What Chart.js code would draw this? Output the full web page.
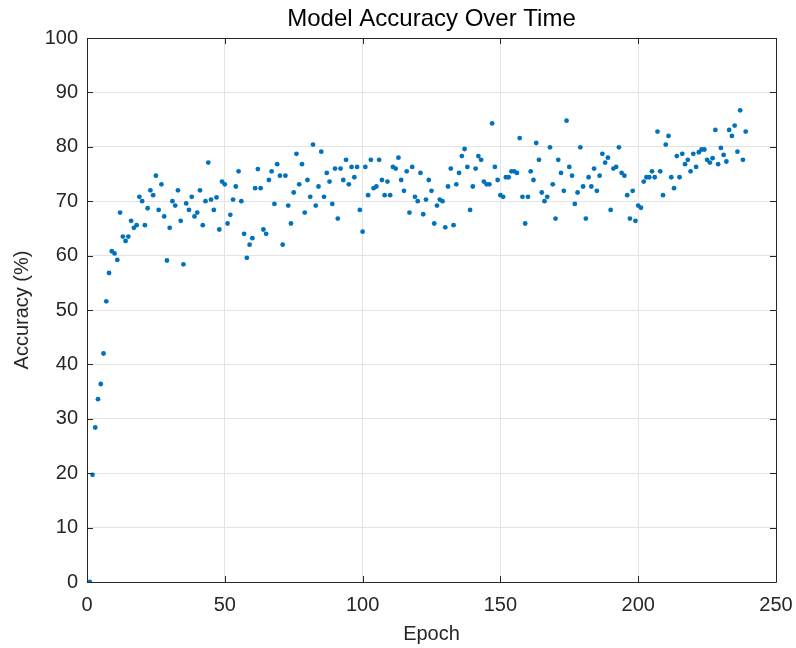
<!DOCTYPE html>
<html>
<head>
<meta charset="utf-8">
<script src="https://cdn.jsdelivr.net/npm/chart.js@4/dist/chart.umd.min.js"></script>
<style>
html,body{margin:0;padding:0;background:#fff;}
#wrap{width:796px;height:648px;position:relative;}
</style>
</head>
<body>
<div id="wrap"><canvas id="c" width="796" height="648"></canvas></div>
<script>
const chartTitle = "Model Accuracy Over Time";
const xTitle = "Epoch";
const yTitle = "Accuracy (%)";
const xTicks = [0, 50, 100, 150, 200, 250];
const yTicks = [0, 10, 20, 30, 40, 50, 60, 70, 80, 90, 100];

const epochs = [
1,2,3,4,5,6,7,8,9,10,11,12,13,14,15,16,17,18,19,20,
21,22,23,24,25,26,27,28,29,30,31,32,33,34,35,36,37,38,39,40,
41,42,43,44,45,46,47,48,49,50,51,52,53,54,55,56,57,58,59,60,
61,62,63,64,65,66,67,68,69,70,71,72,73,74,75,76,77,78,79,80,
81,82,83,84,85,86,87,88,89,90,91,92,93,94,95,96,97,98,99,100,
101,102,103,104,105,106,107,108,109,110,111,112,113,114,115,116,117,118,119,120,
121,122,123,124,125,126,127,128,129,130,131,132,133,134,135,136,137,138,139,140,
141,142,143,144,145,146,147,148,149,150,151,152,153,154,155,156,157,158,159,160,
161,162,163,164,165,166,167,168,169,170,171,172,173,174,175,176,177,178,179,180,
181,182,183,184,185,186,187,188,189,190,191,192,193,194,195,196,197,198,199,200,
201,202,203,204,205,206,207,208,209,210,211,212,213,214,215,216,217,218,219,220,
221,222,223,224,225,226,227,228,229,230,231,232,233,234,235,236,237,238,239
];

const accuracy = [
0,19.7,28.4,33.6,36.4,42.0,51.6,56.8,60.8,60.4,59.2,67.9,63.5,62.7,63.5,66.4,65.1,65.6,70.8,70.0,
65.6,68.7,72.0,71.1,74.7,68.4,73.1,67.2,59.1,65.1,70.0,69.2,72.0,66.4,58.4,69.6,68.4,70.8,67.2,67.9,
72.0,65.6,70.0,77.1,70.3,68.4,70.7,64.8,73.6,73.1,65.9,67.5,70.3,72.7,75.5,70.0,64.0,59.6,62.0,63.2,
72.4,75.9,72.4,64.8,64.0,73.9,75.5,69.5,76.8,74.7,62.0,74.7,69.2,65.9,71.6,78.7,73.1,76.8,67.9,73.9,
70.8,80.4,69.2,72.7,79.1,70.8,75.2,73.6,69.5,76.0,66.8,76.0,73.9,77.6,73.1,76.3,74.4,76.3,68.4,64.4,
76.3,71.1,77.6,72.4,72.7,77.6,73.9,71.1,73.6,71.1,76.3,76.0,78.0,73.9,71.9,75.5,67.9,76.3,70.8,70.0,
75.2,67.6,70.3,73.9,71.9,65.9,69.2,70.3,70.0,65.2,72.7,76.0,65.6,73.1,75.2,78.3,79.6,76.3,68.4,72.7,
76.0,78.3,77.6,73.6,73.1,73.1,84.3,76.3,73.9,71.1,70.8,74.4,74.4,75.5,75.5,75.2,81.6,70.8,65.9,70.8,
75.5,73.9,80.7,77.6,71.6,70.0,70.8,79.9,73.1,66.8,77.6,75.2,71.9,84.8,76.3,74.7,69.5,71.6,79.9,72.7,
66.8,74.4,72.7,76.0,71.9,74.7,78.7,77.1,78.0,68.4,76.0,76.3,79.9,75.2,74.7,71.1,66.8,71.9,66.4,69.2,
68.8,73.6,74.4,74.4,75.5,74.4,82.8,75.5,71.1,80.4,82.0,74.4,72.4,78.3,74.4,78.7,76.8,77.6,75.5,78.7,
76.3,79.0,79.5,79.5,77.6,77.1,77.9,83.1,76.8,79.8,78.5,77.3,83.1,82.0,83.9,79.1,86.7,77.6,82.8
];

const points = epochs.map((e, i) => ({x: e, y: accuracy[i]}));

const FONT = "'Liberation Sans', Arial, Helvetica, sans-serif";
const AXIS_COLOR = '#262626';

const boxPlugin = {
  id: 'matlabBox',
  afterDraw(chart) {
    const {ctx, chartArea: a, scales} = chart;
    const xs = scales.x, ys = scales.y;
    ctx.save();
    ctx.strokeStyle = AXIS_COLOR;
    ctx.lineWidth = 1;
    ctx.beginPath();
    ctx.rect(Math.round(a.left) + 0.5, Math.round(a.top) + 0.5,
             Math.round(a.right - a.left), Math.round(a.bottom - a.top));
    ctx.stroke();
    const L = 6;
    ctx.beginPath();
    xTicks.forEach(v => {
      const px = Math.round(xs.getPixelForValue(v)) + 0.5;
      ctx.moveTo(px, a.bottom); ctx.lineTo(px, a.bottom - L);
      ctx.moveTo(px, a.top); ctx.lineTo(px, a.top + L);
    });
    yTicks.forEach(v => {
      const py = Math.round(ys.getPixelForValue(v)) + 0.5;
      ctx.moveTo(a.left, py); ctx.lineTo(a.left + L, py);
      ctx.moveTo(a.right, py); ctx.lineTo(a.right - L, py);
    });
    ctx.stroke();
    ctx.restore();
  }
};

function fixHoriz(h) {
  return function(s) {
    s.height = h;
    s.paddingLeft = 0;
    s.paddingRight = 0;
  };
}

new Chart(document.getElementById('c'), {
  type: 'scatter',
  data: {
    datasets: [{
      data: points,
      backgroundColor: '#0072BD',
      borderWidth: 0,
      pointRadius: 2.4,
      pointHoverRadius: 2.4
    }]
  },
  options: {
    responsive: false,
    animation: false,
    devicePixelRatio: 1,
    layout: {padding: {left: 0, right: 20, top: 0, bottom: 0}},
    plugins: {
      legend: {display: false},
      tooltip: {enabled: false},
      title: {display: false}
    },
    scales: {
      x: {
        type: 'linear',
        min: 0, max: 250,
        afterFit: fixHoriz(66),
        afterBuildTicks(s) { s.ticks = xTicks.map(v => ({value: v})); },
        ticks: {color: AXIS_COLOR, font: {family: FONT, size: 20}, padding: 11, maxRotation: 0},
        grid: {color: '#e3e3e3', drawTicks: false},
        border: {display: false},
        title: {display: true, text: xTitle, color: AXIS_COLOR,
                font: {family: FONT, size: 20}, padding: {top: 0, bottom: 2}}
      },
      xTop: {
        type: 'linear',
        position: 'top',
        min: 0, max: 250,
        afterFit: fixHoriz(38),
        ticks: {display: false},
        grid: {display: false, drawTicks: false},
        border: {display: false},
        title: {display: true, text: chartTitle, color: '#000',
                font: {family: FONT, size: 24, lineHeight: 1.2}, padding: {top: 5, bottom: 0}}
      },
      y: {
        type: 'linear',
        min: 0, max: 100,
        afterFit(s) { s.width = 87; s.paddingTop = 0; s.paddingBottom = 0; },
        afterBuildTicks(s) { s.ticks = yTicks.map(v => ({value: v})); },
        ticks: {color: AXIS_COLOR, font: {family: FONT, size: 20}, padding: 9},
        grid: {color: '#e3e3e3', drawTicks: false},
        border: {display: false},
        title: {display: true, text: yTitle, color: AXIS_COLOR,
                font: {family: FONT, size: 20}, padding: {top: 10, bottom: 0}}
      }
    }
  },
  plugins: [boxPlugin]
});
</script>
</body>
</html>
